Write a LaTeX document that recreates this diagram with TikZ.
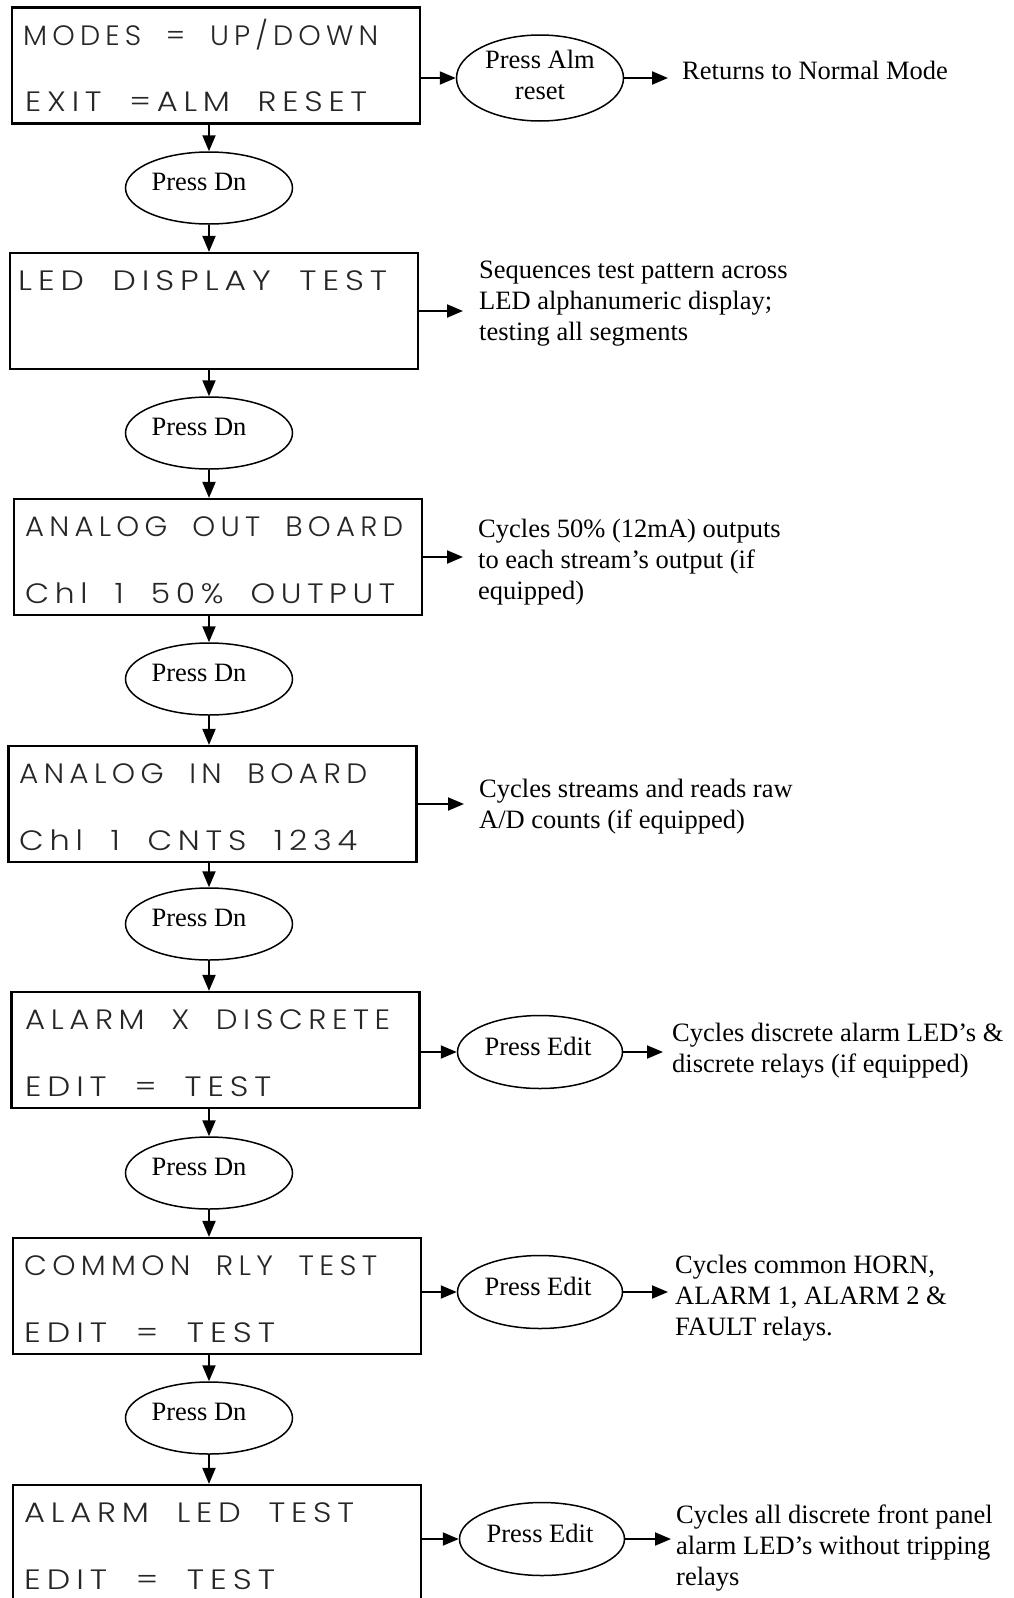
\documentclass[tikz,border=0pt]{standalone}
\usepackage{graphicx}
\usepackage{fontspec}
\setmainfont{Liberation Serif}
\IfFontExistsTF{Poppins Light}
  {\newfontfamily\lcdfont{Poppins Light}[LetterSpace=18,WordSpace=1.9]}
  {\newfontfamily\lcdfont{Poppins}[LetterSpace=18,WordSpace=1.9]}
\usetikzlibrary{shapes.geometric,arrows.meta,calc}
\newlength\lcdw
\newcommand\lcdsize{\lcdfont\fontsize{28}{30}\selectfont}
\newcommand\lcdtext[2]{\settowidth\lcdw{\lcdsize #2}\pgfmathsetmacro\lcdsx{#1/\lcdw}\scalebox{\lcdsx}[1]{\lcdsize #2}}
\begin{document}
\begin{tikzpicture}[x=1pt,y=-1pt,
  box/.style={draw, line width=2.2pt, rectangle, minimum width=408pt, minimum height=116pt, inner sep=0pt},
  dn/.style={draw, ellipse, line width=1.5pt, minimum width=167pt, minimum height=72pt, inner sep=0pt},
  ed/.style={draw, ellipse, line width=1.5pt, minimum width=165pt, minimum height=73pt, inner sep=0pt},
  lbl/.style={inner sep=0pt, font=\fontsize{26.5}{31}\selectfont},
  ann/.style={inner sep=0pt, align=left, anchor=north west, font=\fontsize{26.5}{31}\selectfont},
  lcd/.style={inner sep=0pt, anchor=base west, text=black!85},
  arr/.style={line width=2pt, -{Triangle[length=16pt,width=13pt]}},
]
\useasboundingbox (0,0) rectangle (1013,1598);
\clip (0,0) rectangle (1013,1598);

% display boxes
\node[box] (b1) at (216,65.5) {};
\node[box] (b2) at (214,311) {};
\node[box] (b3) at (218,557) {};
\node[box] (b4) at (212.5,804) {};
\node[box] (b5) at (215.5,1050) {};
\node[box] (b6) at (217,1296) {};
\node[box] (b7) at (217,1543) {};

% display texts
\node[lcd] (l1a) at (23,45) {\lcdtext{355}{MODES = UP/DOWN}};
\node[lcd] (l1b) at (25,111) {\lcdtext{342}{EXIT =ALM RESET}};
\node[lcd] (l2a) at (18,290) {\lcdtext{369}{LED DISPLAY TEST}};
\node[lcd] (l3a) at (25,536) {\lcdtext{378}{ANALOG OUT BOARD}};
\node[lcd] (l3b) at (25,603) {\lcdtext{370}{Chl 1 50\% OUTPUT}};
\node[lcd] (l4a) at (19,783) {\lcdtext{348}{ANALOG IN BOARD}};
\node[lcd] (l4b) at (19,850) {\lcdtext{338}{Chl 1 CNTS 1234}};
\node[lcd] (l5a) at (25,1029) {\lcdtext{365}{ALARM X DISCRETE}};
\node[lcd] (l5b) at (25,1096) {\lcdtext{246}{EDIT = TEST}};
\node[lcd] (l6a) at (24,1275) {\lcdtext{353}{COMMON RLY TEST}};
\node[lcd] (l6b) at (24,1342) {\lcdtext{251}{EDIT = TEST}};
\node[lcd] (l7a) at (24,1522) {\lcdtext{330}{ALARM LED TEST}};
\node[lcd] (l7b) at (24,1589) {\lcdtext{251}{EDIT = TEST}};

% Press Dn ellipses
\node[dn] (d1) at (209,188) {};
\node[dn] (d2) at (209,433) {};
\node[dn] (d3) at (209,679) {};
\node[dn] (d4) at (209,924) {};
\node[dn] (d5) at (209,1173) {};
\node[dn] (d6) at (209,1418) {};
\foreach \d in {d1,d2,d3,d4,d5,d6}{
  \node[lbl, anchor=base] (\d t) at ($(\d)+(-10,2)$) {Press Dn};
}

% Alm reset ellipse
\node[dn, minimum height=86pt] (alm) at (540,78) {};
\node[lbl, align=center, anchor=north] (almt) at (540,50) {Press Alm\\reset};

% Press Edit ellipses
\node[ed] (e5) at (540,1052) {};
\node[ed] (e6) at (540,1292) {};
\node[ed] (e7) at (542,1539) {};
\foreach \e in {e5,e6,e7}{
  \node[lbl, anchor=base] (\e t) at ($(\e)+(-2,3)$) {Press Edit};
}

% annotations
\node[lbl, anchor=base west] (t1) at (682,79) {Returns to Normal Mode};
\node[ann] (t2) at (479,261) {Sequences test pattern across\\LED alphanumeric display;\\testing all segments};
\node[ann] (t3) at (478,519) {Cycles 50\% (12mA) outputs\\to each stream’s output (if\\equipped)};
\node[ann] (t4) at (479,779) {Cycles streams and reads raw\\A/D counts (if equipped)};
\node[ann] (t5) at (672,1023) {Cycles discrete alarm LED’s \&\\discrete relays (if equipped)};
\node[ann] (t6) at (675,1255) {Cycles common HORN,\\ALARM 1, ALARM 2 \&\\FAULT relays.};
\node[ann] (t7) at (676,1505) {Cycles all discrete front panel\\alarm LED’s without tripping\\relays};

% vertical flow
\draw[arr] (d1.north |- b1.south) -- (d1.north);
\draw[arr] (d1.south) -- (d1.south |- b2.north);
\draw[arr] (d2.north |- b2.south) -- (d2.north);
\draw[arr] (d2.south) -- (d2.south |- b3.north);
\draw[arr] (d3.north |- b3.south) -- (d3.north);
\draw[arr] (d3.south) -- (d3.south |- b4.north);
\draw[arr] (d4.north |- b4.south) -- (d4.north);
\draw[arr] (d4.south) -- (d4.south |- b5.north);
\draw[arr] (d5.north |- b5.south) -- (d5.north);
\draw[arr] (d5.south) -- (d5.south |- b6.north);
\draw[arr] (d6.north |- b6.south) -- (d6.north);
\draw[arr] (d6.south) -- (d6.south |- b7.north);

% side branches
\draw[arr] (b1.east |- alm.west) -- (alm.west);
\draw[arr, shorten >=14pt] (alm.east) -- (alm.east -| t1.west);
\draw[arr, shorten >=16pt] (b2.east) -- (b2.east -| t2.west);
\draw[arr, shorten >=15pt] (b3.east) -- (b3.east -| t3.west);
\draw[arr, shorten >=15pt] (b4.east) -- (b4.east -| t4.west);
\draw[arr] (b5.east |- e5.west) -- (e5.west);
\draw[arr, shorten >=9pt] (e5.east) -- (e5.east -| t5.west);
\draw[arr] (b6.east |- e6.west) -- (e6.west);
\draw[arr, shorten >=7pt] (e6.east) -- (e6.east -| t6.west);
\draw[arr] (b7.east |- e7.west) -- (e7.west);
\draw[arr, shorten >=5pt] (e7.east) -- (e7.east -| t7.west);
\end{tikzpicture}
\end{document}
